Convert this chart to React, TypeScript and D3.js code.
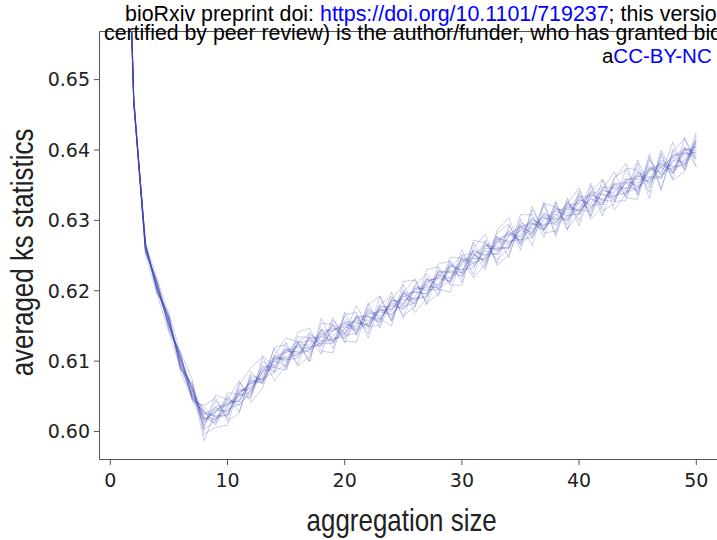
import React from "react";
import * as d3 from "d3";

const aggregationSizes = [
  1, 2, 3, 4, 5, 6, 7, 8, 9, 10,
  11, 12, 13, 14, 15, 16, 17, 18, 19, 20,
  21, 22, 23, 24, 25, 26, 27, 28, 29, 30,
  31, 32, 33, 34, 35, 36, 37, 38, 39, 40,
  41, 42, 43, 44, 45, 46, 47, 48, 49, 50,
];

const rep01 = [
  0.7060, 0.6473, 0.6260, 0.6209, 0.6152, 0.6103, 0.6057, 0.6014, 0.6030, 0.6029,
  0.6057, 0.6062, 0.6089, 0.6086, 0.6111, 0.6129, 0.6119, 0.6135, 0.6129, 0.6152,
  0.6149, 0.6170, 0.6160, 0.6181, 0.6173, 0.6201, 0.6205, 0.6205, 0.6238, 0.6229,
  0.6251, 0.6243, 0.6267, 0.6282, 0.6276, 0.6302, 0.6290, 0.6309, 0.6299, 0.6326,
  0.6337, 0.6330, 0.6349, 0.6337, 0.6361, 0.6377, 0.6365, 0.6383, 0.6401, 0.6395,
];
const rep02 = [
  0.7025, 0.6468, 0.6265, 0.6200, 0.6161, 0.6094, 0.6048, 0.6027, 0.6015, 0.6044,
  0.6042, 0.6069, 0.6070, 0.6104, 0.6104, 0.6109, 0.6135, 0.6127, 0.6152, 0.6140,
  0.6158, 0.6150, 0.6179, 0.6173, 0.6193, 0.6181, 0.6213, 0.6219, 0.6217, 0.6245,
  0.6234, 0.6260, 0.6260, 0.6261, 0.6297, 0.6287, 0.6307, 0.6295, 0.6319, 0.6315,
  0.6313, 0.6342, 0.6339, 0.6360, 0.6347, 0.6359, 0.6383, 0.6368, 0.6387, 0.6410,
];
const rep03 = [
  0.7045, 0.6471, 0.6258, 0.6207, 0.6153, 0.6106, 0.6059, 0.6019, 0.6012, 0.6035,
  0.6061, 0.6057, 0.6085, 0.6101, 0.6093, 0.6123, 0.6123, 0.6143, 0.6132, 0.6134,
  0.6164, 0.6163, 0.6159, 0.6185, 0.6187, 0.6189, 0.6193, 0.6226, 0.6227, 0.6226,
  0.6258, 0.6249, 0.6274, 0.6270, 0.6273, 0.6297, 0.6285, 0.6317, 0.6310, 0.6330,
  0.6321, 0.6323, 0.6354, 0.6344, 0.6364, 0.6354, 0.6376, 0.6390, 0.6379, 0.6415,
];
const rep04 = [
  0.7012, 0.6466, 0.6263, 0.6202, 0.6159, 0.6092, 0.6064, 0.5987, 0.6029, 0.6041,
  0.6043, 0.6077, 0.6073, 0.6099, 0.6117, 0.6106, 0.6132, 0.6124, 0.6142, 0.6157,
  0.6142, 0.6155, 0.6174, 0.6161, 0.6196, 0.6198, 0.6196, 0.6210, 0.6233, 0.6250,
  0.6237, 0.6257, 0.6251, 0.6279, 0.6293, 0.6281, 0.6303, 0.6301, 0.6326, 0.6308,
  0.6334, 0.6349, 0.6332, 0.6353, 0.6341, 0.6372, 0.6369, 0.6393, 0.6397, 0.6391,
];
const rep05 = [
  0.7052, 0.6472, 0.6266, 0.6204, 0.6150, 0.6101, 0.6051, 0.6024, 0.6034, 0.6026,
  0.6052, 0.6055, 0.6093, 0.6090, 0.6115, 0.6120, 0.6112, 0.6138, 0.6147, 0.6137,
  0.6139, 0.6167, 0.6170, 0.6167, 0.6181, 0.6207, 0.6199, 0.6224, 0.6212, 0.6238,
  0.6253, 0.6240, 0.6271, 0.6265, 0.6286, 0.6279, 0.6311, 0.6298, 0.6315, 0.6335,
  0.6318, 0.6339, 0.6329, 0.6358, 0.6359, 0.6356, 0.6386, 0.6375, 0.6380, 0.6406,
];
const rep06 = [
  0.7032, 0.6469, 0.6259, 0.6211, 0.6157, 0.6090, 0.6053, 0.6029, 0.6020, 0.6023,
  0.6055, 0.6070, 0.6077, 0.6108, 0.6099, 0.6126, 0.6129, 0.6120, 0.6135, 0.6155,
  0.6156, 0.6146, 0.6177, 0.6178, 0.6175, 0.6192, 0.6217, 0.6207, 0.6230, 0.6221,
  0.6248, 0.6264, 0.6256, 0.6286, 0.6270, 0.6295, 0.6293, 0.6320, 0.6303, 0.6317,
  0.6339, 0.6327, 0.6345, 0.6334, 0.6367, 0.6362, 0.6362, 0.6388, 0.6404, 0.6392,
];
const rep07 = [
  0.7070, 0.6474, 0.6264, 0.6201, 0.6162, 0.6099, 0.6061, 0.6017, 0.6027, 0.6047,
  0.6037, 0.6059, 0.6091, 0.6094, 0.6119, 0.6112, 0.6116, 0.6140, 0.6127, 0.6147,
  0.6161, 0.6165, 0.6156, 0.6189, 0.6179, 0.6204, 0.6202, 0.6201, 0.6235, 0.6230,
  0.6232, 0.6262, 0.6276, 0.6268, 0.6279, 0.6304, 0.6288, 0.6308, 0.6323, 0.6312,
  0.6332, 0.6322, 0.6351, 0.6354, 0.6349, 0.6375, 0.6359, 0.6385, 0.6383, 0.6413,
];
const rep08 = [
  0.7020, 0.6467, 0.6261, 0.6208, 0.6149, 0.6104, 0.6050, 0.6020, 0.6017, 0.6038,
  0.6050, 0.6074, 0.6068, 0.6103, 0.6102, 0.6104, 0.6133, 0.6134, 0.6150, 0.6132,
  0.6154, 0.6152, 0.6172, 0.6171, 0.6198, 0.6185, 0.6210, 0.6222, 0.6219, 0.6243,
  0.6246, 0.6245, 0.6269, 0.6284, 0.6268, 0.6293, 0.6305, 0.6293, 0.6306, 0.6329,
  0.6324, 0.6344, 0.6335, 0.6339, 0.6370, 0.6352, 0.6378, 0.6371, 0.6399, 0.6404,
];
const rep09 = [
  0.7048, 0.6472, 0.6265, 0.6206, 0.6158, 0.6096, 0.6047, 0.6034, 0.6019, 0.6031,
  0.6039, 0.6053, 0.6086, 0.6106, 0.6113, 0.6114, 0.6120, 0.6123, 0.6145, 0.6149,
  0.6144, 0.6172, 0.6164, 0.6183, 0.6177, 0.6183, 0.6215, 0.6217, 0.6214, 0.6240,
  0.6256, 0.6251, 0.6253, 0.6277, 0.6290, 0.6283, 0.6309, 0.6303, 0.6301, 0.6333,
  0.6335, 0.6329, 0.6327, 0.6355, 0.6353, 0.6373, 0.6375, 0.6367, 0.6396, 0.6388,
];
const rep10 = [
  0.7035, 0.6470, 0.6257, 0.6203, 0.6151, 0.6108, 0.6058, 0.6016, 0.6032, 0.6037,
  0.6054, 0.6068, 0.6075, 0.6084, 0.6096, 0.6127, 0.6138, 0.6129, 0.6130, 0.6139,
  0.6162, 0.6157, 0.6176, 0.6165, 0.6191, 0.6199, 0.6195, 0.6228, 0.6226, 0.6220,
  0.6250, 0.6267, 0.6258, 0.6263, 0.6287, 0.6300, 0.6294, 0.6297, 0.6321, 0.6324,
  0.6316, 0.6347, 0.6346, 0.6346, 0.6346, 0.6370, 0.6381, 0.6377, 0.6377, 0.6408,
];
const rep11 = [
  0.7055, 0.6471, 0.6262, 0.6210, 0.6160, 0.6093, 0.6063, 0.6026, 0.6022, 0.6024,
  0.6058, 0.6061, 0.6084, 0.6092, 0.6116, 0.6110, 0.6115, 0.6144, 0.6143, 0.6154,
  0.6146, 0.6162, 0.6155, 0.6187, 0.6182, 0.6203, 0.6208, 0.6203, 0.6215, 0.6247,
  0.6239, 0.6247, 0.6273, 0.6280, 0.6272, 0.6276, 0.6301, 0.6313, 0.6307, 0.6309,
  0.6341, 0.6336, 0.6333, 0.6357, 0.6363, 0.6360, 0.6360, 0.6392, 0.6394, 0.6397,
];
const rep12 = [
  0.7028, 0.6468, 0.6264, 0.6199, 0.6156, 0.6102, 0.6052, 0.6012, 0.6035, 0.6039,
  0.6045, 0.6072, 0.6072, 0.6105, 0.6105, 0.6122, 0.6117, 0.6126, 0.6125, 0.6146,
  0.6160, 0.6149, 0.6173, 0.6174, 0.6195, 0.6188, 0.6191, 0.6220, 0.6236, 0.6225,
  0.6241, 0.6265, 0.6262, 0.6260, 0.6291, 0.6296, 0.6287, 0.6315, 0.6316, 0.6314,
  0.6330, 0.6325, 0.6352, 0.6341, 0.6344, 0.6374, 0.6379, 0.6372, 0.6402, 0.6399,
];
const rep13 = [
  0.7065, 0.6475, 0.6256, 0.6212, 0.6147, 0.6110, 0.6045, 0.6028, 0.6009, 0.6051,
  0.6028, 0.6080, 0.6074, 0.6118, 0.6089, 0.6127, 0.6100, 0.6161, 0.6126, 0.6164,
  0.6136, 0.6183, 0.6147, 0.6188, 0.6208, 0.6177, 0.6219, 0.6192, 0.6242, 0.6224,
  0.6269, 0.6234, 0.6278, 0.6247, 0.6302, 0.6275, 0.6326, 0.6281, 0.6328, 0.6300,
  0.6349, 0.6306, 0.6359, 0.6381, 0.6336, 0.6390, 0.6342, 0.6401, 0.6373, 0.6426,
];
const rep14 = [
  0.7015, 0.6465, 0.6268, 0.6198, 0.6164, 0.6089, 0.6067, 0.6004, 0.6044, 0.6019,
  0.6070, 0.6049, 0.6100, 0.6084, 0.6127, 0.6095, 0.6141, 0.6122, 0.6162, 0.6126,
  0.6165, 0.6139, 0.6192, 0.6158, 0.6197, 0.6217, 0.6180, 0.6230, 0.6210, 0.6258,
  0.6222, 0.6272, 0.6239, 0.6293, 0.6266, 0.6315, 0.6286, 0.6327, 0.6286, 0.6338,
  0.6307, 0.6358, 0.6327, 0.6328, 0.6381, 0.6331, 0.6396, 0.6359, 0.6417, 0.6386,
];
const rep15 = [
  0.7050, 0.6472, 0.6254, 0.6215, 0.6143, 0.6088, 0.6069, 0.6002, 0.6016, 0.6055,
  0.6053, 0.6047, 0.6108, 0.6091, 0.6087, 0.6135, 0.6133, 0.6110, 0.6158, 0.6138,
  0.6179, 0.6149, 0.6151, 0.6198, 0.6161, 0.6209, 0.6224, 0.6202, 0.6198, 0.6250,
  0.6254, 0.6230, 0.6286, 0.6303, 0.6264, 0.6284, 0.6322, 0.6277, 0.6324, 0.6346,
  0.6305, 0.6344, 0.6369, 0.6332, 0.6330, 0.6386, 0.6364, 0.6411, 0.6371, 0.6413,
];
const rep16 = [
  0.7022, 0.6467, 0.6271, 0.6196, 0.6169, 0.6110, 0.6043, 0.6037, 0.6048, 0.6015,
  0.6026, 0.6085, 0.6068, 0.6120, 0.6123, 0.6093, 0.6107, 0.6146, 0.6118, 0.6170,
  0.6139, 0.6179, 0.6193, 0.6156, 0.6201, 0.6169, 0.6190, 0.6238, 0.6242, 0.6212,
  0.6272, 0.6268, 0.6244, 0.6259, 0.6308, 0.6308, 0.6276, 0.6325, 0.6288, 0.6310,
  0.6353, 0.6314, 0.6323, 0.6374, 0.6372, 0.6340, 0.6400, 0.6367, 0.6403, 0.6375,
];
const rep17 = [
  0.7075, 0.6476, 0.6267, 0.6217, 0.6165, 0.6084, 0.6046, 0.6008, 0.6052, 0.6045,
  0.6072, 0.6041, 0.6062, 0.6108, 0.6133, 0.6127, 0.6099, 0.6154, 0.6152, 0.6128,
  0.6127, 0.6175, 0.6161, 0.6150, 0.6213, 0.6215, 0.6182, 0.6196, 0.6248, 0.6246,
  0.6218, 0.6238, 0.6282, 0.6295, 0.6258, 0.6320, 0.6282, 0.6285, 0.6332, 0.6292,
  0.6341, 0.6358, 0.6315, 0.6338, 0.6386, 0.6346, 0.6392, 0.6357, 0.6369, 0.6421,
];
const rep18 = [
  0.7008, 0.6464, 0.6252, 0.6194, 0.6141, 0.6113, 0.6073, 0.5996, 0.6006, 0.6009,
  0.6066, 0.6091, 0.6106, 0.6072, 0.6093, 0.6141, 0.6147, 0.6114, 0.6112, 0.6166,
  0.6169, 0.6133, 0.6181, 0.6192, 0.6165, 0.6177, 0.6230, 0.6234, 0.6208, 0.6208,
  0.6262, 0.6280, 0.6236, 0.6251, 0.6294, 0.6264, 0.6324, 0.6319, 0.6294, 0.6342,
  0.6301, 0.6320, 0.6361, 0.6372, 0.6336, 0.6394, 0.6346, 0.6397, 0.6417, 0.6377,
];

const replicates = [
  rep01, rep02, rep03, rep04, rep05, rep06, rep07, rep08, rep09,
  rep10, rep11, rep12, rep13, rep14, rep15, rep16, rep17, rep18,
];

const xTicks = [0, 10, 20, 30, 40, 50];
const yTicks = [0.6, 0.61, 0.62, 0.63, 0.64, 0.65];
const xLabel = "aggregation size";
const yLabel = "averaged ks statistics";

export default function App() {
  const W = 717;
  const H = 540;
  const left = 99.5;
  const top = 31.5;
  const bottom = 459.5;
  const right = 780;

  const x = d3.scaleLinear().domain([0, 50]).range([110.3, 696.3]);
  const y = d3.scaleLinear().domain([0.6, 0.65]).range([431.5, 79.6]);
  const line = d3
    .line<number>()
    .x((_, i) => x(aggregationSizes[i]))
    .y((d) => y(d));

  const axisColor = "#555";
  const tickFont = "DejaVu Sans, Verdana, sans-serif";
  const labelFont = "Liberation Sans, Arial, sans-serif";
  const yFmt = d3.format(".2f");

  return (
    <svg
      width={W}
      height={H}
      style={{ position: "absolute", left: 0, top: 0, background: "#fff" }}
    >
      <defs>
        <clipPath id="plotClip">
          <rect x={left} y={top} width={right - left} height={bottom - top} />
        </clipPath>
      </defs>

      <g clipPath="url(#plotClip)">
        {replicates.map((rep, k) => (
          <path
            key={k}
            d={line(rep) || ""}
            fill="none"
            stroke="rgb(60,72,178)"
            strokeOpacity={0.3}
            strokeWidth={0.9}
            strokeLinejoin="miter"
          />
        ))}
      </g>

      {/* frame */}
      <line x1={left} x2={left} y1={top} y2={bottom} stroke={axisColor} strokeWidth={1} />
      <line x1={left} x2={right} y1={top} y2={top} stroke={axisColor} strokeWidth={1} />
      <line x1={left} x2={right} y1={bottom} y2={bottom} stroke={axisColor} strokeWidth={1} />

      {/* y ticks */}
      {yTicks.map((t) => (
        <g key={t}>
          <line x1={left - 5.5} x2={left} y1={y(t)} y2={y(t)} stroke={axisColor} strokeWidth={1} />
          <text
            x={90}
            y={y(t)}
            dy="0.36em"
            textAnchor="end"
            fontFamily={tickFont}
            fontSize={19}
            fill="#222"
          >
            {yFmt(t)}
          </text>
        </g>
      ))}

      {/* x ticks */}
      {xTicks.map((t) => (
        <g key={t}>
          <line x1={x(t)} x2={x(t)} y1={bottom} y2={bottom + 5.5} stroke={axisColor} strokeWidth={1} />
          <text
            x={x(t)}
            y={486.5}
            textAnchor="middle"
            fontFamily={tickFont}
            fontSize={19}
            fill="#222"
          >
            {t}
          </text>
        </g>
      ))}

      {/* axis labels */}
      <text
        transform="translate(401.7,531) scale(0.81,1)"
        textAnchor="middle"
        fontFamily={labelFont}
        fontSize={32}
        fill="#222"
      >
        {xLabel}
      </text>
      <text
        transform="translate(33,252.5) rotate(-90) scale(0.81,1)"
        textAnchor="middle"
        fontFamily={labelFont}
        fontSize={32}
        fill="#222"
      >
        {yLabel}
      </text>

      {/* bioRxiv header */}
      <text x={125} y={20.5} fontFamily={labelFont} fontSize={21.4} fill="#000">
        <tspan>bioRxiv preprint doi: </tspan>
        <tspan fill="#0000ff">https://doi.org/10.1101/719237</tspan>
        <tspan>; this version posted</tspan>
      </text>
      <text x={104} y={39.5} fontFamily={labelFont} fontSize={21.3} fill="#000">
        certified by peer review) is the author/funder, who has granted bioRxiv a license
      </text>
      <text x={711.7} y={63.3} textAnchor="end" fontFamily={labelFont} fontSize={20.5} fill="#000">
        <tspan>a</tspan>
        <tspan fill="#0000ff">CC-BY-NC</tspan>
      </text>
    </svg>
  );
}
